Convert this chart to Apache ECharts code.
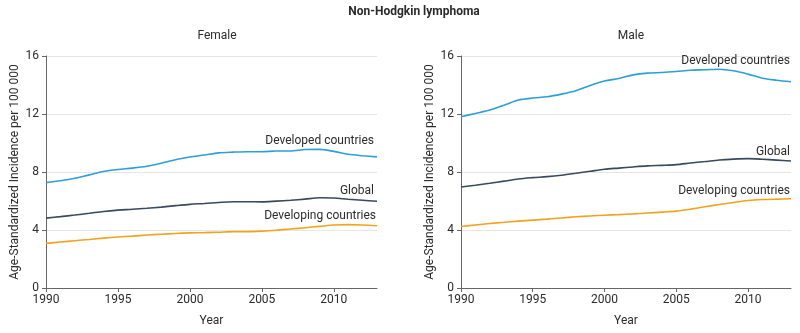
<!DOCTYPE html>
<html>
<head>
<meta charset="utf-8">
<script src="https://cdn.jsdelivr.net/npm/echarts@6/dist/echarts.min.js"></script>
<style>
  html, body { margin: 0; padding: 0; background: #fff; }
  #chart { width: 800px; height: 333px; }
</style>
</head>
<body>
<div id="chart"></div>
<script>
  const years = [1990, 1991, 1992, 1993, 1994, 1995, 1996, 1997, 1998, 1999, 2000, 2001,
    2002, 2003, 2004, 2005, 2006, 2007, 2008, 2009, 2010, 2011, 2012, 2013]
  const yearTicks = [1990, 1995, 2000, 2005, 2010]

  const femaleDeveloped = [7.27, 7.40, 7.57, 7.80, 8.03, 8.17, 8.27, 8.40, 8.60, 8.85, 9.03, 9.17,
    9.32, 9.37, 9.40, 9.40, 9.45, 9.45, 9.55, 9.56, 9.42, 9.22, 9.12, 9.04]
  const femaleGlobal = [4.82, 4.92, 5.03, 5.15, 5.28, 5.37, 5.43, 5.50, 5.58, 5.68, 5.77, 5.83,
    5.90, 5.95, 5.95, 5.94, 5.99, 6.05, 6.13, 6.22, 6.21, 6.12, 6.05, 5.98]
  const femaleDeveloping = [3.08, 3.17, 3.26, 3.35, 3.44, 3.52, 3.58, 3.65, 3.71, 3.76, 3.80, 3.82,
    3.85, 3.89, 3.89, 3.92, 3.98, 4.07, 4.16, 4.25, 4.34, 4.37, 4.35, 4.29]

  const maleDeveloped = [11.81, 12.04, 12.27, 12.61, 12.96, 13.10, 13.19, 13.37, 13.60, 13.97, 14.27, 14.45,
    14.70, 14.82, 14.86, 14.93, 15.02, 15.05, 15.09, 14.98, 14.75, 14.47, 14.33, 14.22]
  const maleGlobal = [6.97, 7.09, 7.22, 7.37, 7.52, 7.61, 7.68, 7.78, 7.91, 8.05, 8.19, 8.27,
    8.35, 8.42, 8.46, 8.51, 8.62, 8.72, 8.83, 8.89, 8.92, 8.88, 8.82, 8.76]
  const maleDeveloping = [4.24, 4.35, 4.45, 4.53, 4.61, 4.68, 4.75, 4.83, 4.91, 4.97, 5.02, 5.06,
    5.11, 5.17, 5.23, 5.30, 5.44, 5.60, 5.76, 5.90, 6.03, 6.10, 6.13, 6.15]

  const FONT = 'Roboto, sans-serif'
  const TEXT = '#2b2b2b'
  const colors = { developed: '#2c9fd8', global: '#384a5c', developing: '#f2a31e' }

  const pairs = (vals) => years.map((y, i) => [y, vals[i]])

  function axisX(idx) {
    return {
      type: 'value', gridIndex: idx, min: 1990, max: 2013, interval: 5,
      name: 'Year', nameLocation: 'middle', nameGap: 27,
      nameTextStyle: { color: TEXT, fontSize: 12, fontFamily: FONT },
      axisLine: { lineStyle: { color: '#666', width: 1 } },
      axisTick: { show: true, length: 4, customValues: yearTicks, lineStyle: { color: '#666' } },
      axisLabel: { customValues: yearTicks, formatter: (v) => String(v),
        color: TEXT, fontSize: 12, fontFamily: FONT, margin: 6 },
      splitLine: { show: false }
    }
  }
  function axisY(idx) {
    return {
      type: 'value', gridIndex: idx, min: 0, max: 16, interval: 4,
      name: 'Age-Standardized Incidence per 100 000', nameLocation: 'middle', nameGap: 25,
      nameTextStyle: { color: TEXT, fontSize: 12, fontFamily: FONT },
      axisLine: { show: true, lineStyle: { color: '#666', width: 1 } },
      axisTick: { show: true, length: 4, lineStyle: { color: '#666' } },
      axisLabel: { color: TEXT, fontSize: 12, fontFamily: FONT, margin: 7 },
      splitLine: { show: true, lineStyle: { color: '#e6e6e6', width: 1 } }
    }
  }
  function line(name, vals, idx, color, dx, dy) {
    return {
      name: name, type: 'line', xAxisIndex: idx, yAxisIndex: idx,
      data: pairs(vals), smooth: 0.3, showSymbol: false, silent: true,
      lineStyle: { color: color, width: 1.6 },
      endLabel: {
        show: true, formatter: name, color: TEXT, fontSize: 12, fontFamily: FONT,
        align: 'right', verticalAlign: 'middle', offset: [dx, dy]
      }
    }
  }

  const chart = echarts.init(document.getElementById('chart'))
  chart.setOption({
    animation: false,
    title: [
      { text: 'Non-Hodgkin lymphoma', left: 409, top: 1, textAlign: 'center',
        textStyle: { fontSize: 12, fontWeight: 'bold', color: TEXT, fontFamily: FONT } },
      { text: 'Female', left: 212, top: 25, textAlign: 'center',
        textStyle: { fontSize: 12, fontWeight: 'normal', color: TEXT, fontFamily: FONT } },
      { text: 'Male', left: 626, top: 25, textAlign: 'center',
        textStyle: { fontSize: 12, fontWeight: 'normal', color: TEXT, fontFamily: FONT } }
    ],
    grid: [
      { left: 46, right: 423, top: 56, bottom: 45 },
      { left: 461, right: 9, top: 56, bottom: 45 }
    ],
    xAxis: [axisX(0), axisX(1)],
    yAxis: [axisY(0), axisY(1)],
    series: [
      line('Developed countries', femaleDeveloped, 0, colors.developed, -11, -16),
      line('Global', femaleGlobal, 0, colors.global, -11, -10),
      line('Developing countries', femaleDeveloping, 0, colors.developing, -9, -10),
      line('Developed countries', maleDeveloped, 1, colors.developed, -9, -21),
      line('Global', maleGlobal, 1, colors.global, -9, -9),
      line('Developing countries', maleDeveloping, 1, colors.developing, -9, -8)
    ]
  })
</script>
</body>
</html>
